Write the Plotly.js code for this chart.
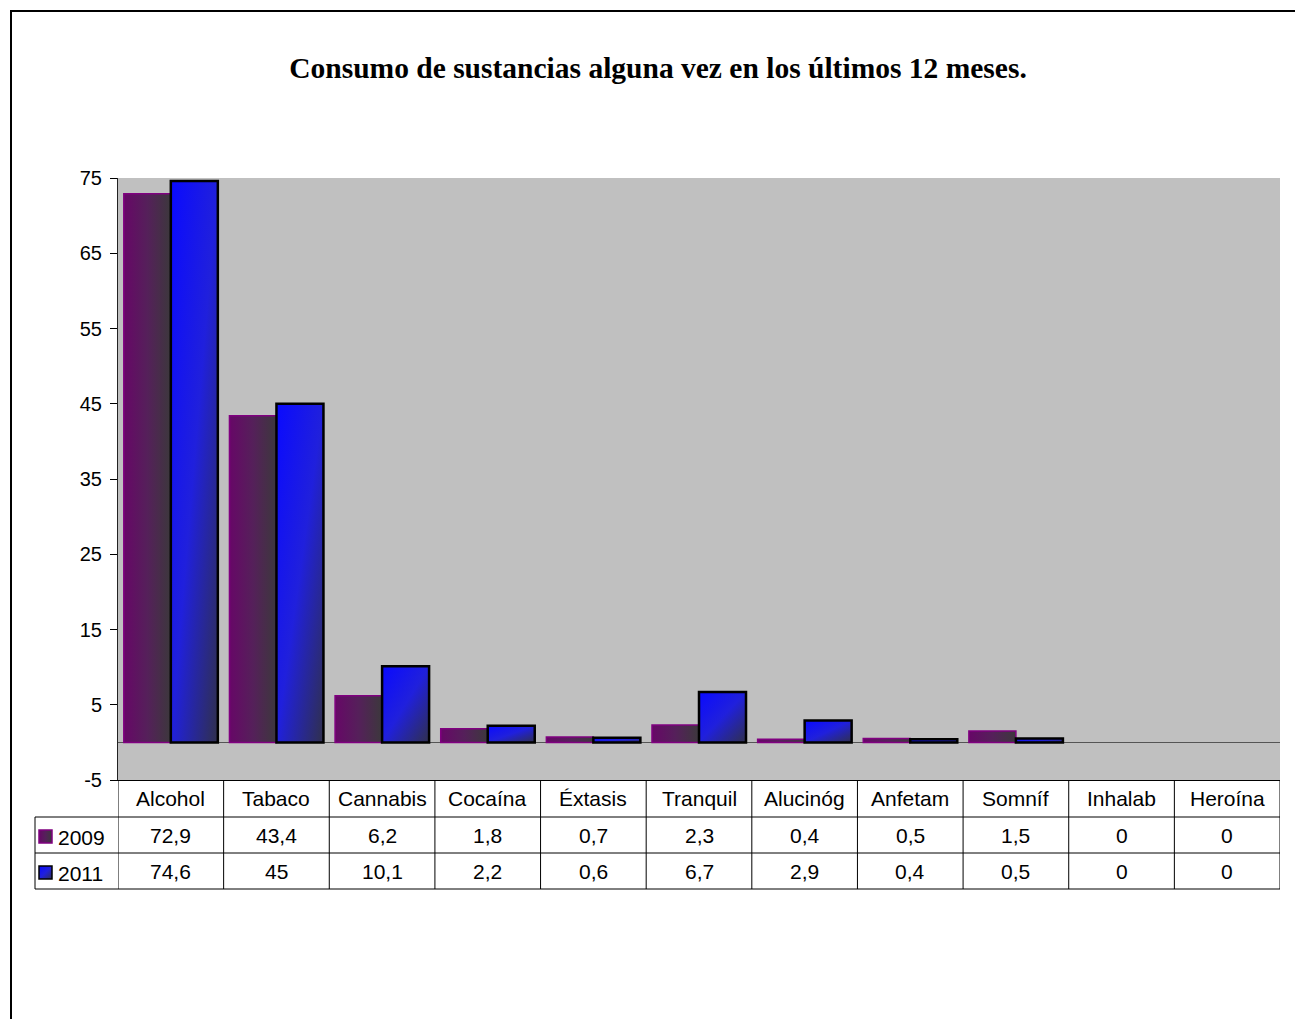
<!DOCTYPE html>
<html><head><meta charset="utf-8">
<script src="https://cdn.plot.ly/plotly-3.0.1.min.js"></script>
<style>html,body{margin:0;padding:0;background:#fff;}</style>
</head><body><div id="chart" style="width:1295px;height:1019px;"></div>
<script>
const categories = ['Alcohol','Tabaco','Cannabis','Cocaína','Éxtasis','Tranquil','Alucinóg','Anfetam','Somníf','Inhalab','Heroína'];
const seriesNames = ['2009','2011'];
const values2009 = [72.9,43.4,6.2,1.8,0.7,2.3,0.4,0.5,1.5,0,0];
const values2011 = [74.6,45,10.1,2.2,0.6,6.7,2.9,0.4,0.5,0,0];
const yTicks = [-5,5,15,25,35,45,55,65,75];
const titleText = 'Consumo de sustancias alguna vez en los últimos 12 meses.';

const L=118, R=1280, T=178, B=780;
const px = x => (x-L)/(R-L);
const py = y => (B-y)/(B-T);
const fmt = v => String(v).replace('.', ',');

const traces = [
  {type:'bar', name:seriesNames[0], x:categories, y:values2009,
   marker:{color:'#5a1a5a', line:{color:'#800080', width:values2009.map(v=>v===0?0:1.5)}}},
  {type:'bar', name:seriesNames[1], x:categories, y:values2011,
   marker:{color:'#1a1ae0', line:{color:'#000000', width:values2011.map(v=>v===0?0:2.5)}}}
];

const shapes = [];
// outer frame
shapes.push({type:'rect', xref:'paper', yref:'paper', x0:px(11), x1:px(1320), y0:py(11), y1:py(1040),
  line:{color:'#000', width:2}, fillcolor:'rgba(0,0,0,0)', layer:'above'});
// table horizontal lines
[817,853,889].forEach(y=>shapes.push({type:'line', xref:'paper', yref:'paper', x0:px(35), x1:px(1280), y0:py(y), y1:py(y), line:{color:'#000', width:1}, layer:'above'}));
// left edge of legend column
shapes.push({type:'line', xref:'paper', yref:'paper', x0:px(35), x1:px(35), y0:py(817), y1:py(889), line:{color:'#000', width:1}, layer:'above'});
// category column boundaries
for (let i=0;i<=categories.length;i++){
  shapes.push({type:'line', xref:'x', yref:'paper', x0:i-0.5, x1:i-0.5, y0:py(780), y1:py(889), line:{color:'#000', width:1}, layer:'above'});
}
// legend swatches
const swatchIdx = shapes.length;
shapes.push({type:'rect', xref:'paper', yref:'paper', x0:px(39), x1:px(52), y0:py(830), y1:py(843), fillcolor:'#5a1a5a', line:{color:'#800080', width:1.5}, layer:'above'});
shapes.push({type:'rect', xref:'paper', yref:'paper', x0:px(39), x1:px(52), y0:py(866), y1:py(879), fillcolor:'#1a1ae0', line:{color:'#000', width:1.5}, layer:'above'});

const tfont = {family:'"Liberation Sans", Arial, sans-serif', size:21, color:'#000'};
const annotations = [];
categories.forEach((c,i)=>{
  annotations.push({xref:'x', yref:'paper', x:i, y:py(798), text:c, showarrow:false, font:tfont, xanchor:'center', yanchor:'middle'});
  annotations.push({xref:'x', yref:'paper', x:i, y:py(835), text:fmt(values2009[i]), showarrow:false, font:tfont, xanchor:'center', yanchor:'middle'});
  annotations.push({xref:'x', yref:'paper', x:i, y:py(871), text:fmt(values2011[i]), showarrow:false, font:tfont, xanchor:'center', yanchor:'middle'});
});
annotations.push({xref:'paper', yref:'paper', x:px(56), y:py(837), text:seriesNames[0], showarrow:false, font:tfont, xanchor:'left', yanchor:'middle'});
annotations.push({xref:'paper', yref:'paper', x:px(56), y:py(873), text:seriesNames[1], showarrow:false, font:tfont, xanchor:'left', yanchor:'middle'});

const layout = {
  width:1295, height:1019,
  margin:{l:L, r:1295-R, t:T, b:1019-B, pad:0},
  paper_bgcolor:'#ffffff', plot_bgcolor:'#c0c0c0',
  title:{text:'<b>'+titleText+'</b>', x:658/1295, xref:'container', xanchor:'center', y:1-68/1019, yref:'container', yanchor:'middle',
    font:{family:'"Liberation Serif", "Times New Roman", serif', size:29.5, color:'#000'}},
  showlegend:false,
  barmode:'group', bargap:0.11, bargroupgap:0,
  xaxis:{type:'category', showticklabels:false, ticks:'', showgrid:false, zeroline:false, showline:true, linecolor:'#000', linewidth:1, range:[-0.5,10.5], fixedrange:true},
  yaxis:{range:[-5,75], tickvals:yTicks, ticktext:yTicks.map(String), ticks:'outside', ticklen:7, tickcolor:'#000', tickwidth:1,
    ticklabelstandoff:4,
    showline:true, linecolor:'#222', linewidth:1, showgrid:false, zeroline:true, zerolinecolor:'#555', zerolinewidth:1,
    tickfont:{family:'"Liberation Sans", Arial, sans-serif', size:20, color:'#000'}, fixedrange:true},
  shapes:shapes, annotations:annotations
};

function addGradients(gd){
  const svg = gd.querySelector('svg.main-svg');
  const defs = svg.querySelector('defs');
  const NS='http://www.w3.org/2000/svg';
  function grad(id, x2, y2, stops){
    const g=document.createElementNS(NS,'linearGradient');
    g.setAttribute('id',id); g.setAttribute('x1','0'); g.setAttribute('y1','0'); g.setAttribute('x2',x2); g.setAttribute('y2',y2);
    stops.forEach(s=>{const st=document.createElementNS(NS,'stop'); st.setAttribute('offset',s[0]); st.setAttribute('stop-color',s[1]); g.appendChild(st);});
    defs.appendChild(g);
  }
  grad('g2009','1','0',[[0,'#670767'],[0.5,'#55205a'],[1,'#3c383c']]);
  grad('g2011','1','1',[[0,'#0a0aff'],[0.5,'#2020dc'],[1,'#30304c']]);
  const tr = gd.querySelectorAll('.barlayer .trace');
  ['g2009','g2011'].forEach((id,k)=>{
    if(!tr[k]) return;
    tr[k].querySelectorAll('.point path').forEach(p=>{p.style.fill='url(#'+id+')';});
  });
  ['g2009','g2011'].forEach((id,k)=>{
    gd.querySelectorAll('.shapelayer path[data-index="'+(swatchIdx+k)+'"]').forEach(p=>{p.style.fill='url(#'+id+')'; p.style.fillOpacity=1;});
  });
}

Plotly.newPlot('chart', traces, layout, {staticPlot:true}).then(addGradients);
</script>
</body></html>
